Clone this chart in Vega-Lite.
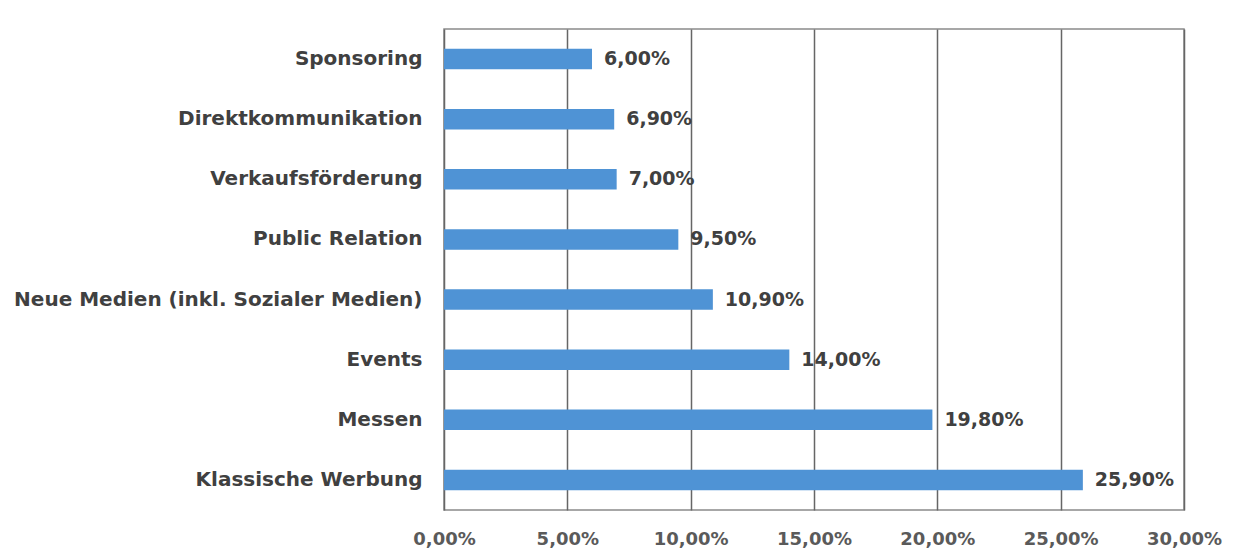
{
  "$schema": "https://vega.github.io/schema/vega-lite/v6.json",
  "width": 740,
  "height": 481,
  "autosize": "none",
  "padding": {"left": 444, "top": 29, "right": 61, "bottom": 50},
  "background": "white",
  "config": {
    "locale": {"number": {"decimal": ",", "thousands": ".", "grouping": [3], "currency": ["", " €"]}},
    "view": {"stroke": "#8a8a8a", "strokeWidth": 1.5},
    "font": "DejaVu Sans"
  },
  "data": {
    "values": [
      {"kategorie": "Sponsoring", "anteil": 0.06},
      {"kategorie": "Direktkommunikation", "anteil": 0.069},
      {"kategorie": "Verkaufsförderung", "anteil": 0.07},
      {"kategorie": "Public Relation", "anteil": 0.095},
      {"kategorie": "Neue Medien (inkl. Sozialer Medien)", "anteil": 0.109},
      {"kategorie": "Events", "anteil": 0.14},
      {"kategorie": "Messen", "anteil": 0.198},
      {"kategorie": "Klassische Werbung", "anteil": 0.259}
    ]
  },
  "encoding": {
    "y": {
      "field": "kategorie", "type": "nominal", "sort": null,
      "scale": {"paddingInner": 0.66, "paddingOuter": 0.33},
      "axis": {"title": null, "ticks": false, "domain": false, "labelPadding": 22, "labelLimit": 600, "labelFontSize": 20, "labelFontWeight": "bold", "labelColor": "#404040", "labelFont": "DejaVu Sans"}
    },
    "x": {
      "field": "anteil", "type": "quantitative",
      "scale": {"domain": [0, 0.3], "nice": false},
      "axis": {"title": null, "format": ".2%", "values": [0, 0.05, 0.1, 0.15, 0.2, 0.25, 0.3], "ticks": false, "domain": false, "grid": true, "gridColor": "#666666", "gridWidth": 1.5, "labelFlush": false, "labelPadding": 20, "labelFontSize": 18, "labelFontWeight": "bold", "labelColor": "#5a5a5a", "labelFont": "DejaVu Sans"}
    }
  },
  "layer": [
    {"mark": {"type": "bar", "color": "#4f93d5"}},
    {
      "mark": {"type": "text", "align": "left", "dx": 12, "fontSize": 19, "fontWeight": "bold", "color": "#404040", "font": "DejaVu Sans"},
      "encoding": {"text": {"field": "anteil", "type": "quantitative", "format": ".2%"}}
    }
  ]
}
